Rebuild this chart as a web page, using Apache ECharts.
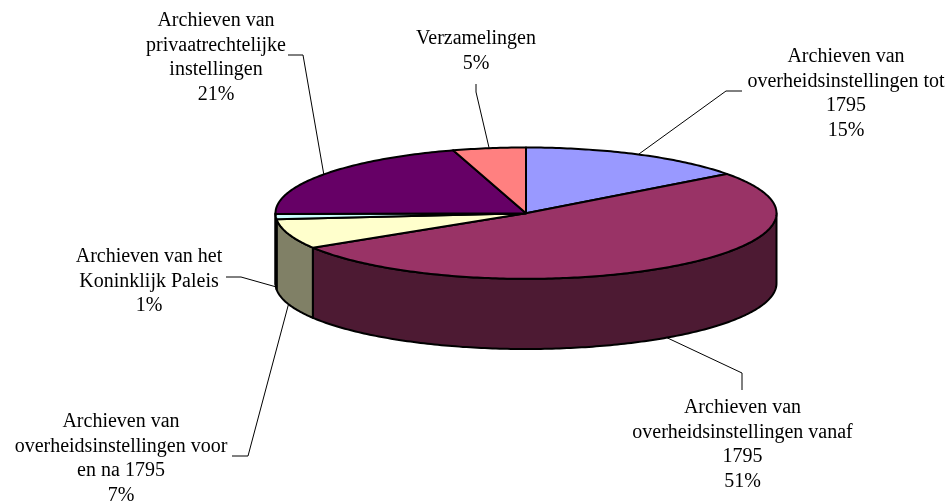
<!DOCTYPE html>
<html>
<head>
<meta charset="utf-8">
<style>html,body{margin:0;padding:0;background:#fff}#c{width:951px;height:503px}</style>
<script src="https://cdn.jsdelivr.net/npm/echarts@6/dist/echarts.min.js"></script>
</head>
<body>
<div id="c"></div>
<script>
// Slice shares (clockwise from 12 o'clock)
const names = [
  'Archieven van\noverheidsinstellingen tot\n1795',
  'Archieven van\noverheidsinstellingen vanaf\n1795',
  'Archieven van\noverheidsinstellingen voor\nen na 1795',
  'Archieven van het\nKoninklijk Paleis',
  'Archieven van\nprivaatrechtelijke\ninstellingen',
  'Verzamelingen'
];
const values = [14.8, 51.4, 7.3, 1.3, 20.5, 4.7];
const percentLabels = ['15%', '51%', '7%', '1%', '21%', '5%'];
const topColors = ['#9999FF', '#993366', '#FFFFCC', '#CCFFFF', '#660066', '#FF8080'];
const sideColors = ['#4D4D80', '#4D1A33', '#808066', '#668080', '#330033', '#804040'];

// Label block placement: centre x, top y, and the leader elbow points
const labelCx = [846, 742.5, 121, 149, 216, 476];
const labelTop = [45, 396, 410, 245, 9, 27];
const elbows = [
  [[726, 91], [742, 91]],
  [[742, 373], [742, 390]],
  [[248, 456], [232, 456]],
  [[241, 277], [226, 277]],
  [[303, 55], [288, 55]],
  [[476, 92], [476, 84]]
];

const RX = 250.5, RY = 65.5, DEPTH = 70;
const total = values.reduce((a, b) => a + b, 0);
const starts = [];
values.reduce((acc, v, i) => { starts[i] = acc; return acc + v; }, 0);
const ang = p => p / total * 2 * Math.PI;
const onEllipse = (t, drop) => [RX * Math.sin(t), RY * Math.cos(t) - (drop || 0)];

function arc(a0, a1, drop, api) {
  const pts = [];
  const n = Math.max(2, Math.ceil((a1 - a0) / 0.015));
  for (let k = 0; k <= n; k++) pts.push(api.coord(onEllipse(a0 + (a1 - a0) * k / n, drop)));
  return pts;
}

function sideItem(params, api) {
  const i = api.value(0);
  const a0 = Math.max(ang(starts[i]), Math.PI / 2);
  const a1 = Math.min(ang(starts[i] + values[i]), 3 * Math.PI / 2);
  if (a1 <= a0) return { type: 'group', children: [] };
  const pts = arc(a0, a1, 0, api).concat(arc(a0, a1, DEPTH, api).reverse());
  return { type: 'polygon', shape: { points: pts },
    style: { fill: sideColors[i], stroke: '#000', lineWidth: 2, lineJoin: 'round' } };
}

function topItem(params, api) {
  const i = api.value(0);
  const a0 = ang(starts[i]), a1 = ang(starts[i] + values[i]);
  const pts = [api.coord([0, 0])].concat(arc(a0, a1, 0, api));
  return { type: 'polygon', shape: { points: pts },
    style: { fill: topColors[i], stroke: '#000', lineWidth: 2, lineJoin: 'round' } };
}

function labelItem(params, api) {
  const i = api.value(0);
  const mid = ang(starts[i] + values[i] / 2);
  const front = Math.cos(mid) < 0;
  const anchor = api.coord(onEllipse(mid, front ? DEPTH : 0));
  const line = [anchor].concat(elbows[i]);
  return { type: 'group', children: [
    { type: 'polyline', shape: { points: line }, style: { fill: null, stroke: '#000', lineWidth: 1 } },
    { type: 'text', style: {
        text: names[i] + '\n' + percentLabels[i], x: labelCx[i], y: labelTop[i],
        align: 'center', verticalAlign: 'top', fill: '#000',
        fontFamily: '"Liberation Serif"', fontSize: 20, lineHeight: 24.4 } }
  ] };
}

const rows = values.map((v, i) => [i, v]);
const base = { type: 'custom', coordinateSystem: 'cartesian2d', data: rows, silent: true, clip: false,
  encode: { x: 0, y: 1 }, animation: false };

const chart = echarts.init(document.getElementById('c'), null, { renderer: 'canvas' });
chart.setOption({
  animation: false,
  backgroundColor: '#fff',
  grid: { left: 275.5, width: 501, top: 147.5, height: 201.5 },
  xAxis: { type: 'value', min: -RX, max: RX, show: false },
  yAxis: { type: 'value', min: -RY - DEPTH, max: RY, show: false },
  series: [
    Object.assign({}, base, { renderItem: sideItem, z: 2 }),
    Object.assign({}, base, { renderItem: topItem, z: 3 }),
    Object.assign({}, base, { renderItem: labelItem, z: 4 })
  ]
});
</script>
</body>
</html>
